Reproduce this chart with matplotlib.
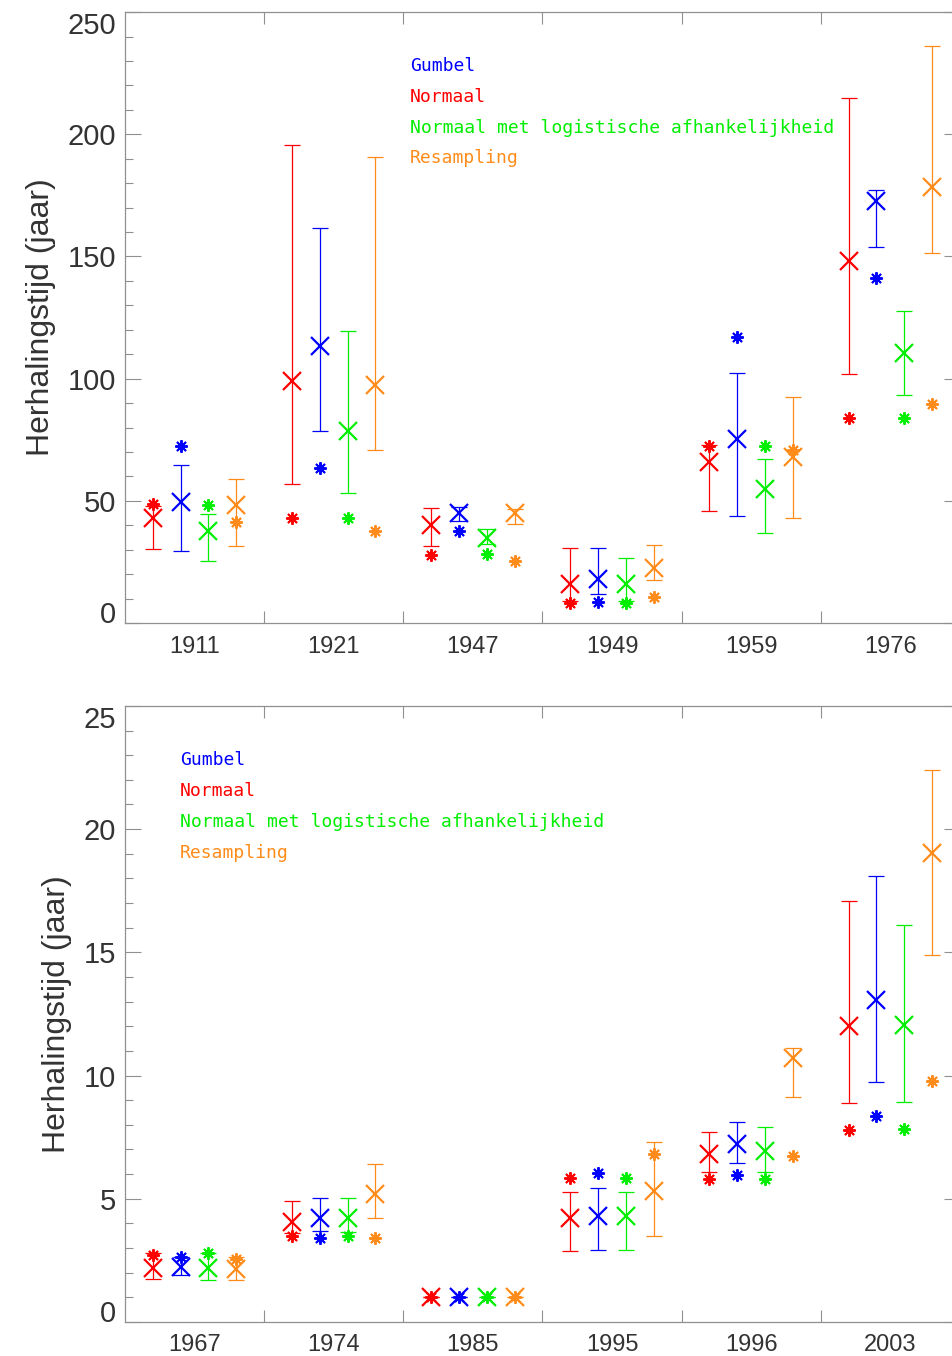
import numpy as np
import matplotlib
matplotlib.use("Agg")
from matplotlib import pyplot as plt
from matplotlib.ticker import MultipleLocator

# --- data: upper panel (return period in years) ---
years_top = ['1911', '1921', '1947', '1949', '1959', '1976']

normal_top_mid = [43.0, 99.0, 40.0, 16.0, 66.0, 148.0]
normal_top_lo = [30.5, 57.0, 31.6, 9.0, 45.8, 102.0]
normal_top_hi = [48.0, 195.5, 47.0, 30.7, 73.0, 215.0]
normal_top_obs = [48.8, 43.0, 28.0, 8.3, 72.5, 84.0]

gumbel_top_mid = [49.5, 113.5, 45.0, 18.0, 75.5, 172.5]
gumbel_top_lo = [29.5, 78.5, 41.8, 12.0, 44.0, 154.0]
gumbel_top_hi = [64.5, 161.5, 47.5, 30.7, 102.5, 177.0]
gumbel_top_obs = [72.5, 63.5, 37.5, 8.7, 117.0, 141.0]

logist_top_mid = [37.7, 78.7, 34.8, 15.8, 55.0, 110.5]
logist_top_lo = [25.4, 53.3, 32.4, 9.0, 36.7, 93.4]
logist_top_hi = [44.7, 119.5, 38.5, 26.6, 67.0, 127.5]
logist_top_obs = [48.5, 43.0, 28.3, 8.3, 72.5, 84.0]

resamp_top_mid = [48.4, 97.5, 45.0, 22.5, 68.0, 178.5]
resamp_top_lo = [31.6, 71.0, 40.6, 17.6, 43.0, 151.3]
resamp_top_hi = [59.0, 190.6, 46.7, 32.0, 92.5, 236.0]
resamp_top_obs = [41.5, 37.7, 25.5, 10.7, 71.0, 89.5]

# --- data: lower panel ---
years_bot = ['1967', '1974', '1985', '1995', '1996', '2003']

normal_bot_mid = [2.2, 4.05, 1.0, 4.2, 6.8, 12.0]
normal_bot_lo = [1.75, 3.6, 1.0, 2.87, 6.1, 8.9]
normal_bot_hi = [2.8, 4.9, 1.0, 5.28, 7.7, 17.1]
normal_bot_obs = [2.72, 3.5, 1.0, 5.83, 5.8, 7.8]

gumbel_bot_mid = [2.25, 4.22, 1.0, 4.3, 7.24, 13.05]
gumbel_bot_lo = [1.9, 3.7, 1.0, 2.94, 6.46, 9.74]
gumbel_bot_hi = [2.62, 5.05, 1.0, 5.42, 8.1, 18.1]
gumbel_bot_obs = [2.62, 3.4, 1.0, 6.03, 5.95, 8.35]

logist_bot_mid = [2.17, 4.2, 1.0, 4.3, 6.93, 12.04]
logist_bot_lo = [1.72, 3.66, 1.0, 2.94, 6.1, 8.93]
logist_bot_hi = [2.8, 5.05, 1.0, 5.28, 7.9, 16.1]
logist_bot_obs = [2.78, 3.5, 1.0, 5.83, 5.81, 7.83]

resamp_bot_mid = [2.13, 5.2, 1.0, 5.3, 10.7, 19.05]
resamp_bot_lo = [1.72, 4.2, 1.0, 3.5, 9.14, 14.9]
resamp_bot_hi = [2.64, 6.4, 1.0, 7.3, 11.1, 22.4]
resamp_bot_obs = [2.55, 3.4, 1.0, 6.82, 6.73, 9.77]

legend_labels = ['Gumbel', 'Normaal', 'Normaal met logistische afhankelijkheid', 'Resampling']

RED = '#ff0000'
BLUE = '#0000ff'
GREEN = '#00ee00'
ORANGE = '#ff8c1a'
legend_colors = [BLUE, RED, GREEN, ORANGE]

AXIS_GREY = '#909090'
TEXT_GREY = '#333333'

plt.rcParams['font.family'] = ['Liberation Sans', 'DejaVu Sans']


def draw_panel(ax, years, series, ymax, major, minor, leg_x):
    """
    Draw one panel: 4 estimates per year with confidence interval and observed value
    """
    x = np.arange(len(years))
    offsets = [-0.3, -0.1, 0.1, 0.3]
    for off, (color, mid, lo, hi, obs) in zip(offsets, series):
        mid = np.array(mid)
        err = np.array([mid - np.array(lo), np.array(hi) - mid])
        ax.errorbar(x + off, mid, yerr=err, fmt='none', ecolor=color,
                    elinewidth=0.9, capsize=6, capthick=0.9)
        ax.plot(x + off, mid, ls='none', marker='x', color=color, ms=13, mew=1.6)
        ax.plot(x + off, obs, ls='none', marker=(8, 2, 0), color=color, ms=9, mew=1.4)

    ax.set_xlim(-0.5, len(years) - 0.5)
    ax.set_ylim(0, ymax)

    # tick marks sit between the groups, labels in the middle of each group
    ax.set_xticks(x[:-1] + 0.5)
    ax.set_xticks(x, minor=True)
    ax.set_xticklabels(years, minor=True)
    ax.tick_params(axis='x', which='major', direction='in', length=8.6, width=0.8,
                   color=AXIS_GREY, top=True, bottom=True, labelbottom=False)
    ax.tick_params(axis='x', which='minor', length=0, labelsize=17, pad=9,
                   labelcolor=TEXT_GREY)

    ax.yaxis.set_major_locator(MultipleLocator(major))
    ax.yaxis.set_minor_locator(MultipleLocator(minor))
    ax.tick_params(axis='y', which='both', direction='in', left=True, right=True,
                   color=AXIS_GREY, width=0.8)
    ax.tick_params(axis='y', which='major', length=11.5, labelsize=21, pad=6.5,
                   labelcolor=TEXT_GREY)
    ax.tick_params(axis='y', which='minor', length=5.8)

    for sp in ax.spines.values():
        sp.set_color(AXIS_GREY)
        sp.set_linewidth(0.9)

    ax.set_ylabel('Herhalingstijd (jaar)', fontsize=23, color=TEXT_GREY, labelpad=8)

    for i, (lab, col) in enumerate(zip(legend_labels, legend_colors)):
        ax.text(leg_x, 0.912 - i * 0.0505, lab, color=col, fontsize=13,
                family='DejaVu Sans Mono', transform=ax.transAxes, va='center', ha='left')


def shift_end_labels(ax, ymax):
    # first and last value labels are kept inside the axis range
    for tick in ax.yaxis.get_major_ticks():
        loc = tick.get_loc()
        if np.isclose(loc, 0):
            tick.label1.set_va('baseline')
        elif np.isclose(loc, ymax):
            tick.label1.set_va('top')


fig = plt.figure(figsize=(9.52, 13.56), dpi=100)
# the right edge of both panels runs just past the figure border
ax_top = fig.add_axes([0.1313, 0.5405, 0.877, 0.4506])
ax_bot = fig.add_axes([0.1313, 0.0251, 0.877, 0.4543])

top_series = [
    (RED, normal_top_mid, normal_top_lo, normal_top_hi, normal_top_obs),
    (BLUE, gumbel_top_mid, gumbel_top_lo, gumbel_top_hi, gumbel_top_obs),
    (GREEN, logist_top_mid, logist_top_lo, logist_top_hi, logist_top_obs),
    (ORANGE, resamp_top_mid, resamp_top_lo, resamp_top_hi, resamp_top_obs),
]
bot_series = [
    (RED, normal_bot_mid, normal_bot_lo, normal_bot_hi, normal_bot_obs),
    (BLUE, gumbel_bot_mid, gumbel_bot_lo, gumbel_bot_hi, gumbel_bot_obs),
    (GREEN, logist_bot_mid, logist_bot_lo, logist_bot_hi, logist_bot_obs),
    (ORANGE, resamp_bot_mid, resamp_bot_lo, resamp_bot_hi, resamp_bot_obs),
]

draw_panel(ax_top, years_top, top_series, 250, 50, 10, 0.341)
draw_panel(ax_bot, years_bot, bot_series, 25, 5, 1, 0.066)

fig.canvas.draw()
shift_end_labels(ax_top, 250)
shift_end_labels(ax_bot, 25)

fig.savefig('out.png', dpi=100)
